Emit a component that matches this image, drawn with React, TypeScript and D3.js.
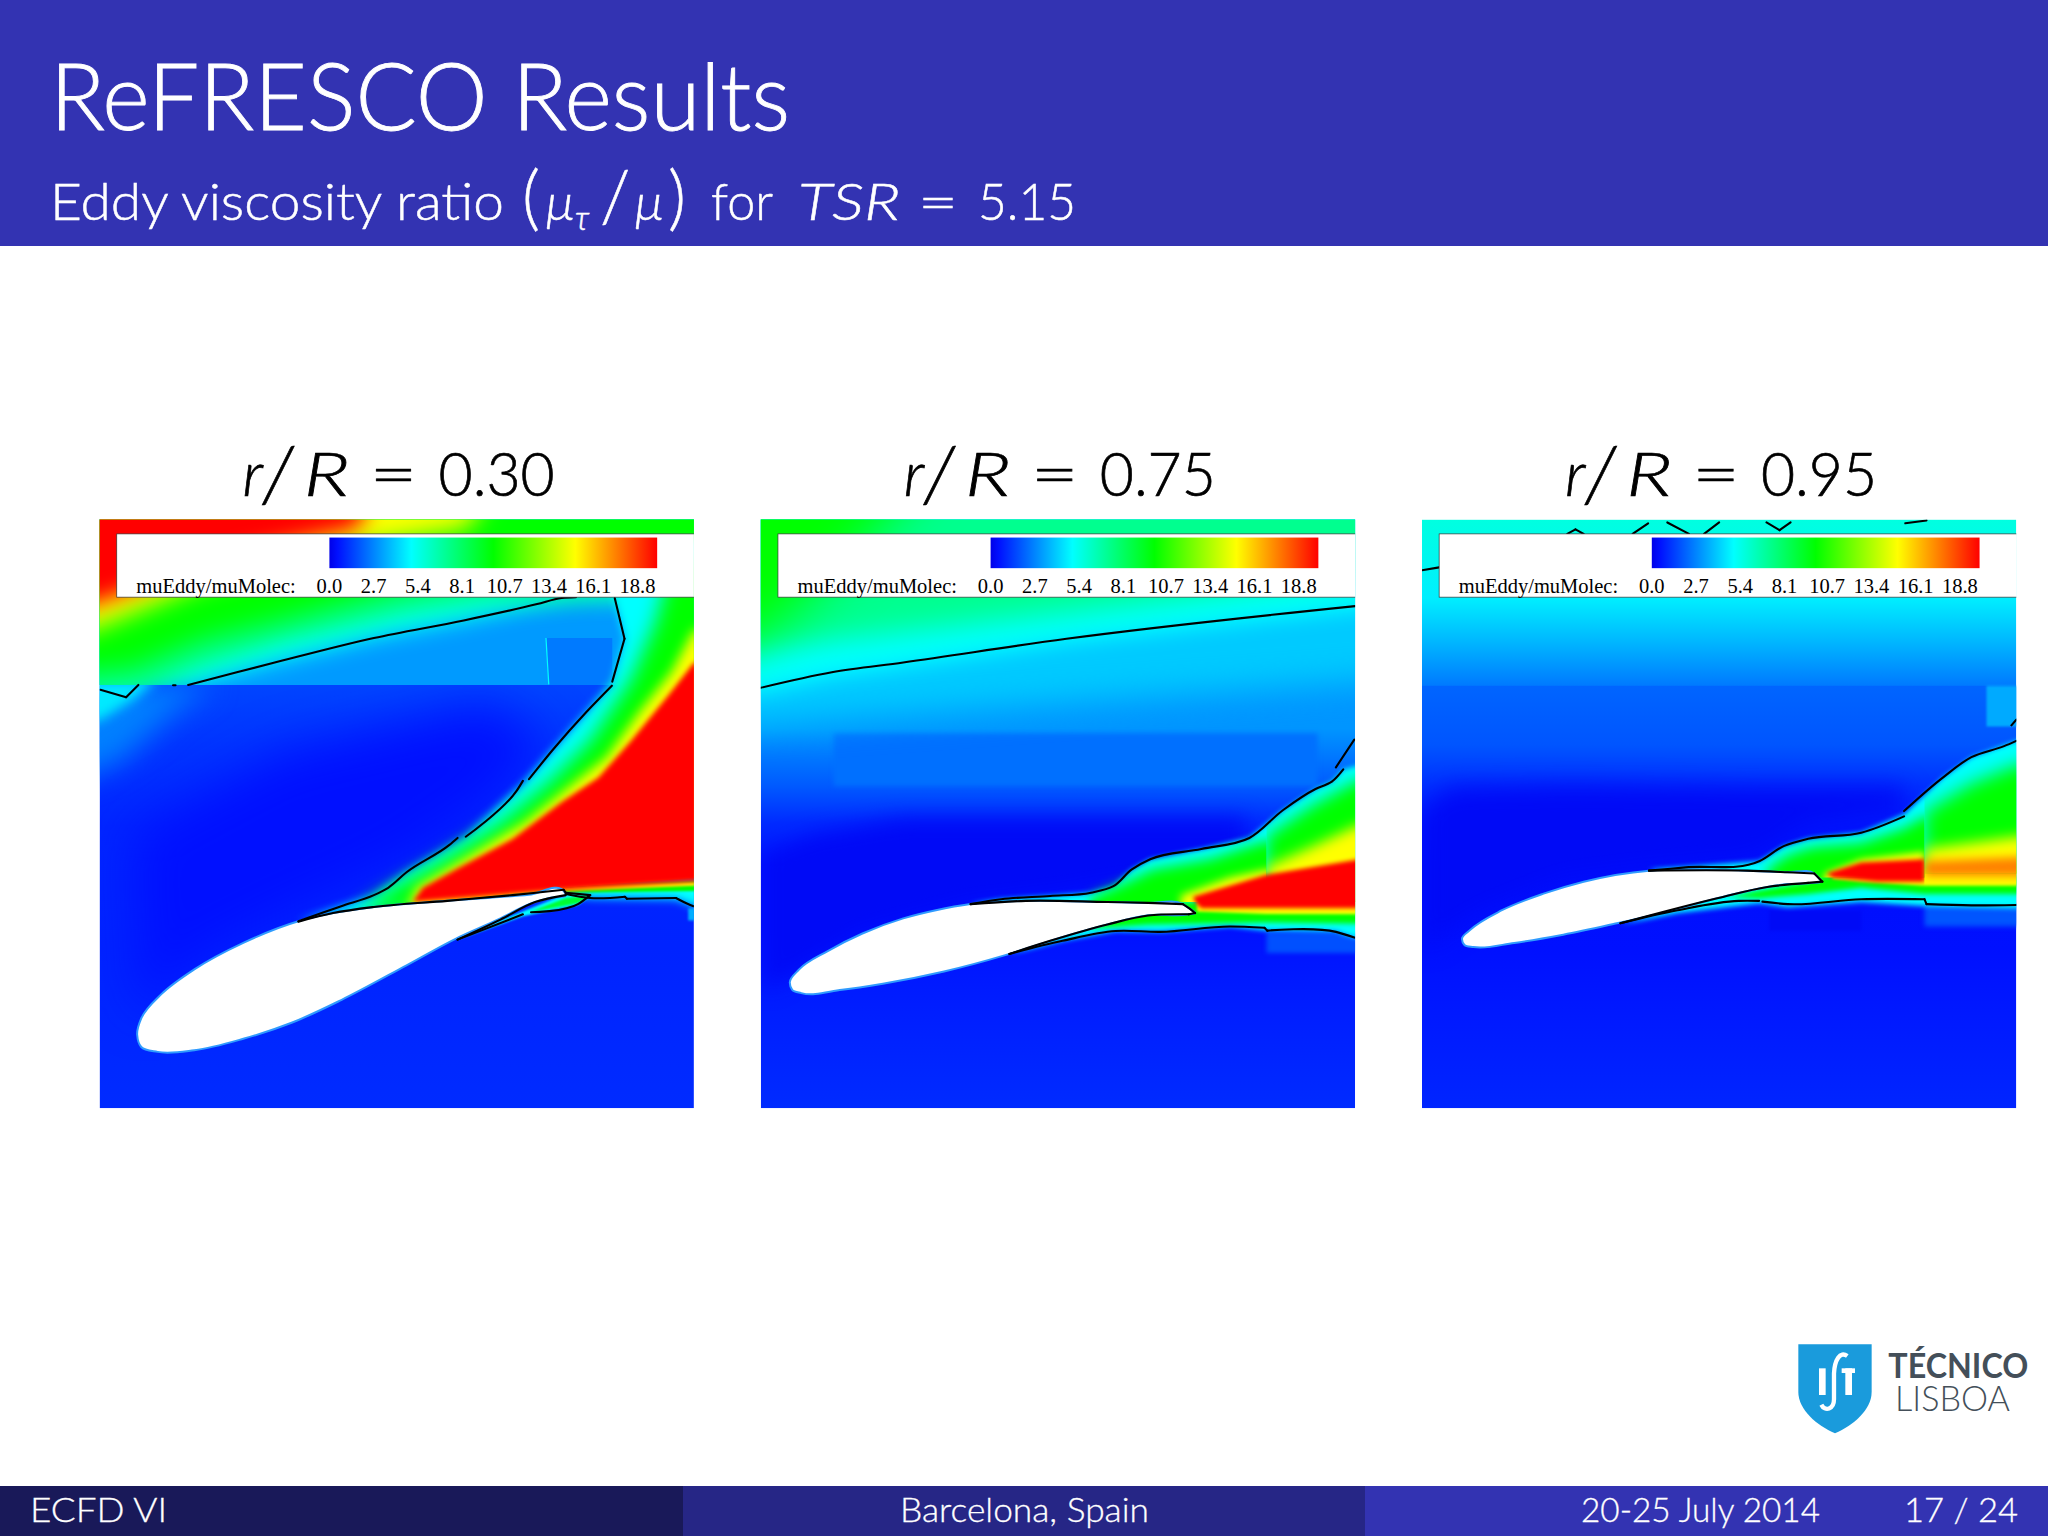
import * as d3 from "d3";

type Pt = [number, number];
type Band = { v: number; soft: number; pts: Pt[]; clip?: Pt[] };

// colour ramp of the solver legend
const rampValues = [0, 0.5, 5, 10, 15, 20];
const rampColors = ["#0000e8", "#0010ff", "#00ffff", "#00ff00", "#ffff00", "#ff0000"];
const legendTicks = [0.0, 2.7, 5.4, 8.1, 10.7, 13.4, 16.1, 18.8];
const legendLabel = "muEddy/muMolec:";

const panelTitles = ["0.30", "0.75", "0.95"];

// regions the solver blocks split the field into
const aboveY453: Pt[] = [[-100, -100], [1700, -100], [1700, 453], [-100, 453]];
const belowY453: Pt[] = [[-100, 453], [1700, 453], [1700, 1600], [-100, 1600]];
const wakeTopR30: Pt[] = [[560, 1040], [815, 992], [1190, 950], [1503, 925], [1700, 925], [1700, -100], [560, -100]];
const wakeLeftR75: Pt[] = [[800, 985], [1290, 985], [1290, -100], [800, -100]];
const wakeRightR75: Pt[] = [[1290, 985], [1700, 985], [1700, -100], [1290, -100]];
const wakeLeftR95: Pt[] = [[880, 925], [1285, 925], [1285, -100], [880, -100]];
const wakeRightR95: Pt[] = [[1285, 915], [1700, 915], [1700, -100], [1285, -100]];

// vertical background profile [y, value], outlines below use the same read-off units
const bgR30: Pt[] = [[453, 1.5], [600, 1.2], [800, 0.9], [1100, 0.85], [1490, 1.0]];
const bandsR30: Band[] = [
  { v: 2.6, soft: 35, pts: [[-100, 453], [330, 453], [230, 520], [100, 640], [-100, 720]], clip: belowY453 },
  { v: 4.6, soft: 14, pts: [[-100, 440], [190, 440], [130, 490], [48, 540], [-100, 560]], clip: belowY453 },
  { v: 0.5, soft: 60, pts: [[130, 820], [500, 620], [1000, 500], [1150, 600], [1000, 750], [800, 880], [700, 930], [520, 1010], [300, 1120], [150, 1260]] },
  { v: 3.1, soft: 0, pts: aboveY453 },
  { v: 2.5, soft: 0, pts: [[1140, 338], [1304, 338], [1304, 453], [1148, 453]] },
  { v: 5, soft: 0, pts: [[1140, 338], [1143, 338], [1150, 452], [1147, 452]] },
  { v: 5, soft: 28, pts: [[-100, 480], [50, 465], [113, 483], [143, 453], [265, 453], [470, 400], [720, 338], [940, 295], [1120, 255], [1215, 238], [1310, 240], [1700, 240], [1700, -100], [-100, -100]], clip: aboveY453 },
  { v: 7.5, soft: 30, pts: [[-100, 500], [160, 470], [300, 410], [500, 350], [800, 280], [1000, 250], [1700, 210], [1700, -100], [-100, -100]], clip: aboveY453 },
  { v: 10, soft: 30, pts: [[-100, 430], [130, 410], [300, 340], [500, 290], [800, 210], [1000, 170], [1700, 130], [1700, -100], [-100, -100]], clip: aboveY453 },
  { v: 15, soft: 30, pts: [[1050, -100], [950, 70], [600, 130], [300, 205], [48, 310], [-100, 360], [-100, -100]] },
  { v: 20, soft: 26, pts: [[750, -100], [680, 70], [400, 130], [200, 195], [48, 250], [-100, 290], [-100, -100]] },
  { v: 5, soft: 10, pts: [[1310, 240], [1334, 340], [1304, 445], [1240, 520], [1160, 610], [1085, 695], [945, 825], [800, 912], [720, 968], [535, 1032], [900, 985], [1190, 965], [1250, 975], [1460, 978], [1503, 995], [1700, 1000], [1700, 100], [1300, 100]] },
  { v: 3.5, soft: 3, pts: [[1490, 1000], [1700, 1000], [1700, 1030], [1490, 1030]] },
  { v: 10, soft: 3, pts: [[680, 1005], [1190, 962], [1503, 958], [1700, 958], [1700, 925], [1190, 945], [830, 985]] },
  { v: 15, soft: 3, pts: [[815, 990], [1190, 958], [1503, 945], [1700, 945], [1700, 930], [1190, 945], [830, 985]] },
  { v: 10, soft: 24, pts: [[1450, 150], [1410, 300], [1350, 440], [1250, 590], [1150, 690], [1030, 790], [880, 885], [760, 955], [680, 1010], [1700, 1010], [1700, 150]], clip: wakeTopR30 },
  { v: 15, soft: 14, pts: [[1700, 270], [1503, 320], [1450, 420], [1370, 520], [1290, 630], [1190, 710], [1090, 790], [950, 875], [825, 950], [800, 1010], [1700, 1010]], clip: wakeTopR30 },
  { v: 20, soft: 6, pts: [[1700, 350], [1503, 400], [1440, 480], [1350, 590], [1270, 680], [1180, 740], [1060, 830], [930, 900], [840, 950], [815, 985], [1190, 955], [1503, 935], [1700, 935]] },
  { v: 5, soft: 3, pts: [[925, 1077], [1030, 1030], [1190, 965], [1250, 970], [1220, 992], [1085, 1020]] },
  { v: 9, soft: 3, pts: [[1100, 1010], [1190, 975], [1250, 968], [1220, 988]] },
];
const foilR30: Pt[] = [[140, 1310], [150, 1270], [200, 1210], [280, 1150], [400, 1085], [535, 1032], [620, 1012], [720, 997], [900, 982], [1100, 967], [1185, 958], [1190, 966], [1150, 975], [1100, 990], [1030, 1025], [920, 1075], [800, 1140], [640, 1225], [520, 1280], [400, 1320], [280, 1348], [190, 1352], [150, 1340]];
const linesR30: Pt[][] = [
  [[50, 465], [113, 483]],
  [[113, 483], [143, 453]],
  [[228, 454], [234, 454]],
  [[265, 453], [470, 400], [720, 338], [940, 295], [1120, 255], [1180, 240], [1215, 238]],
  [[1310, 240], [1334, 340]],
  [[1334, 340], [1304, 445]],
  [[1303, 455], [1240, 520], [1160, 610], [1100, 684]],
  [[1085, 688], [1070, 712], [945, 825]],
  [[925, 828], [905, 845], [800, 912], [755, 950], [720, 968], [640, 995], [535, 1032]],
  [[535, 1033], [620, 1012], [720, 997], [900, 982], [1060, 968], [1185, 955]],
  [[1185, 955], [1192, 965]],
  [[1190, 965], [1250, 975], [1335, 972]],
  [[1335, 972], [1340, 977]],
  [[1340, 977], [1460, 975]],
  [[1460, 975], [1495, 992], [1503, 995]],
  [[925, 1077], [1030, 1028], [1115, 985], [1190, 968]],
  [[925, 1077], [1085, 1015]],
  [[1105, 1010], [1220, 990], [1250, 968]],
  [[1250, 968], [1190, 962]],
];

const bgR75: Pt[] = [[48, 3.2], [560, 3], [700, 1.9], [790, 1.0], [900, 0.5], [1040, 0.5], [1200, 0.7], [1490, 1.0]];
const bandsR75: Band[] = [
  { v: 2.3, soft: 6, pts: [[230, 572], [1415, 572], [1415, 700], [230, 700]] },
  { v: 0.3, soft: 26, pts: [[60, 870], [180, 820], [400, 780], [1240, 780], [1240, 900], [900, 940], [800, 960], [560, 990], [300, 1060], [130, 1160], [60, 1200]] },
  { v: 4, soft: 40, pts: [[-100, 560], [1700, 430], [1700, -100], [-100, -100]] },
  { v: 5, soft: 25, pts: [[-100, 470], [51, 470], [225, 432], [400, 408], [800, 350], [1507, 270], [1700, 250], [1700, -100], [-100, -100]] },
  { v: 7.2, soft: 35, pts: [[-100, 380], [1700, 170], [1700, -100], [-100, -100]] },
  { v: 10, soft: 60, pts: [[-100, -100], [500, -100], [250, 160], [100, 300], [-100, 400]] },
  { v: 1.7, soft: 5, pts: [[1290, 1060], [1700, 1060], [1700, 1110], [1290, 1110]] },
  { v: 5, soft: 7, pts: [[565, 990], [640, 978], [760, 970], [860, 962], [915, 946], [960, 905], [1005, 880], [1130, 855], [1248, 828], [1330, 760], [1410, 708], [1450, 690], [1478, 660], [1700, 600], [1700, 1072], [1505, 1072], [1460, 1058], [1292, 1055], [1200, 1045], [1030, 1058], [920, 1056], [790, 1080], [660, 1112], [900, 1010]] },
  { v: 10, soft: 6, pts: [[860, 1050], [1000, 1040], [1290, 1035], [1700, 1040], [1700, 985], [860, 985]] },
  { v: 15, soft: 4, pts: [[1120, 1008], [1290, 1014], [1700, 1016], [1700, 980], [1120, 980]] },
  { v: 10, soft: 16, pts: [[860, 975], [950, 935], [1010, 905], [1150, 880], [1290, 835], [1700, 835], [1700, 1100], [860, 1100]], clip: wakeLeftR75 },
  { v: 15, soft: 10, pts: [[1080, 968], [1200, 925], [1290, 905], [1700, 905], [1700, 1100], [1080, 1100]], clip: wakeLeftR75 },
  { v: 10, soft: 20, pts: [[1290, 825], [1400, 750], [1507, 690], [1700, 630], [1700, 1100], [1290, 1100]], clip: wakeRightR75 },
  { v: 15, soft: 16, pts: [[1290, 900], [1400, 850], [1507, 800], [1700, 740], [1700, 1100], [1290, 1100]], clip: wakeRightR75 },
  { v: 20, soft: 5, pts: [[1115, 985], [1110, 972], [1200, 945], [1290, 918], [1507, 882], [1700, 860], [1700, 1000], [1290, 1000], [1130, 1000]] },
];
const foilR75: Pt[] = [[122, 1182], [145, 1150], [215, 1105], [300, 1062], [400, 1025], [480, 1005], [565, 990], [700, 982], [900, 985], [1000, 987], [1085, 990], [1100, 1000], [1115, 1012], [1100, 1015], [1000, 1017], [900, 1040], [760, 1080], [650, 1115], [500, 1155], [350, 1185], [250, 1200], [150, 1208], [128, 1200]];
const linesR75: Pt[][] = [
  [[51, 460], [225, 422], [400, 398], [800, 340], [1507, 260]],
  [[565, 990], [640, 978], [760, 970], [860, 962], [915, 946], [960, 905], [1005, 880], [1130, 855], [1248, 828], [1330, 760], [1410, 708], [1450, 690], [1478, 660]],
  [[1460, 655], [1505, 587]],
  [[660, 1112], [790, 1080], [920, 1056], [1030, 1058], [1200, 1045], [1285, 1048]],
  [[1285, 1048], [1292, 1055]],
  [[1292, 1055], [1460, 1058], [1505, 1072]],
  [[565, 990], [700, 982], [900, 985], [1000, 987], [1085, 990]],
  [[1085, 990], [1100, 1000], [1115, 1012]],
  [[1115, 1012], [1100, 1015]],
  [[1100, 1015], [1000, 1018], [900, 1040], [760, 1080], [660, 1112]],
];

const bgR95: Pt[] = [[48, 5.6], [240, 4.7], [350, 3.6], [454, 2.5], [456, 2.1], [600, 1.8], [700, 1.1], [800, 0.6], [900, 0.45], [1100, 0.5], [1490, 0.9]];
const bandsR95: Band[] = [
  { v: 3.4, soft: 2, pts: [[1437, 455], [1700, 455], [1700, 555], [1437, 555]] },
  { v: 0.3, soft: 30, pts: [[54, 760], [125, 705], [420, 700], [880, 705], [1235, 705], [1235, 770], [1000, 800], [900, 860], [860, 880], [600, 905], [400, 930], [200, 1010], [54, 1100]] },
  { v: 0.3, soft: 4, pts: [[905, 1005], [1130, 1005], [1130, 1055], [905, 1055]] },
  { v: 1.8, soft: 6, pts: [[1285, 990], [1700, 990], [1700, 1045], [1285, 1045]] },
  { v: 5, soft: 7, pts: [[610, 905], [880, 885], [940, 848], [1000, 830], [1130, 815], [1235, 770], [1330, 680], [1400, 630], [1510, 590], [1700, 560], [1700, 1000], [1510, 1000], [1290, 995], [1130, 985], [950, 998], [880, 988], [680, 1012], [540, 1040], [800, 950]] },
  { v: 10, soft: 6, pts: [[800, 972], [880, 975], [1000, 965], [1130, 950], [1285, 965], [1700, 965], [1700, 915], [1032, 920], [1000, 935]] },
  { v: 15, soft: 4, pts: [[1060, 928], [1130, 935], [1285, 945], [1700, 945], [1700, 905], [1060, 905]] },
  { v: 10, soft: 16, pts: [[900, 905], [950, 870], [1010, 850], [1130, 840], [1235, 805], [1285, 775], [1700, 775], [1700, 1100], [900, 1100]], clip: wakeLeftR95 },
  { v: 15, soft: 9, pts: [[1040, 915], [1130, 880], [1285, 862], [1285, 1100], [1040, 1100]], clip: wakeLeftR95 },
  { v: 10, soft: 22, pts: [[1285, 765], [1400, 695], [1510, 650], [1700, 620], [1700, 1100], [1285, 1100]], clip: wakeRightR95 },
  { v: 15, soft: 15, pts: [[1285, 855], [1510, 825], [1700, 810], [1700, 1100], [1285, 1100]], clip: wakeRightR95 },
  { v: 17.5, soft: 12, pts: [[1285, 885], [1510, 875], [1700, 870], [1700, 922], [1285, 922]] },
  { v: 20, soft: 5, pts: [[1045, 915], [1130, 888], [1285, 880], [1285, 935], [1170, 935], [1060, 925]], clip: [[880, 700], [1285, 700], [1285, 1000], [880, 1000]] },
];
const foilR95: Pt[] = [[152, 1075], [170, 1055], [250, 1005], [350, 965], [450, 935], [610, 908], [700, 905], [850, 908], [950, 912], [1015, 915], [1025, 925], [1032, 935], [1015, 938], [950, 941], [900, 948], [780, 975], [650, 1010], [540, 1035], [400, 1065], [280, 1085], [180, 1095], [158, 1090]];
const linesR95: Pt[][] = [
  [[54, 172], [96, 165]],
  [[410, 83], [430, 72]],
  [[430, 72], [450, 83]],
  [[570, 83], [608, 57]],
  [[655, 55], [708, 83]],
  [[745, 83], [782, 55]],
  [[898, 55], [930, 74]],
  [[930, 74], [957, 55]],
  [[1238, 57], [1290, 50]],
  [[610, 908], [700, 900], [880, 885], [940, 848], [1000, 830], [1130, 815], [1235, 775]],
  [[1235, 762], [1330, 680], [1400, 630], [1480, 603], [1510, 590]],
  [[1498, 552], [1510, 538]],
  [[540, 1037], [680, 1005], [830, 982], [880, 982]],
  [[888, 984], [950, 990], [1130, 978], [1285, 978]],
  [[1285, 978], [1290, 990]],
  [[1290, 990], [1400, 993], [1510, 992]],
  [[610, 908], [850, 908], [950, 912], [1015, 915]],
  [[1015, 915], [1035, 935]],
  [[1035, 935], [1000, 938]],
  [[1000, 938], [900, 948], [780, 975], [540, 1037]],
];

const panels = [
  { left: 99.6, x0: 48, bg: bgR30, bands: bandsR30, foil: foilR30, lines: linesR30 },
  { left: 760.8, x0: 51, bg: bgR75, bands: bandsR75, foil: foilR75, lines: linesR75 },
  { left: 1422, x0: 54, bg: bgR95, bands: bandsR95, foil: foilR95, lines: linesR95 },
];

const WIDTH = 2048;
const HEIGHT = 1536;
const PANEL_TOP = 519.6;
const PANEL_W = 594.3;
const PANEL_H = 588.6;
const READ_W = 1456;
const READ_H = 1442;
const SANS = "Lato, 'Open Sans', sans-serif";
const SERIF = "'Liberation Serif', serif";

const color = d3.scaleLinear<string>().domain(rampValues).range(rampColors).clamp(true);
const softs = Array.from(new Set(panels.flatMap((p) => p.bands.map((b) => b.soft)))).filter((s) => s > 0);

function Panel({ panel, index }: { panel: (typeof panels)[number]; index: number }) {
  const x = d3.scaleLinear().domain([panel.x0, panel.x0 + READ_W]).range([0, PANEL_W]);
  const y = d3.scaleLinear().domain([48, 48 + READ_H]).range([0, PANEL_H]);
  const area = d3.line<Pt>().x((d) => x(d[0])).y((d) => y(d[1]));
  const contour = d3
    .line<Pt>()
    .x((d) => x(d[0]))
    .y((d) => y(d[1]))
    .curve(d3.curveCatmullRom.alpha(1));
  const foil = d3
    .line<Pt>()
    .x((d) => x(d[0]))
    .y((d) => y(d[1]))
    .curve(d3.curveCatmullRomClosed.alpha(1));
  const barX = d3.scaleLinear().domain([0, 20]).range([x(panel.x0 + 563), x(panel.x0 + 1366)]);
  const boxLeft = x(panel.x0 + 42);

  return (
    <g transform={`translate(${panel.left},${PANEL_TOP})`}>
      <defs>
        <clipPath id={`frame${index}`}>
          <rect width={PANEL_W} height={PANEL_H} />
        </clipPath>
        <linearGradient id={`bg${index}`} gradientUnits="userSpaceOnUse" x1="0" x2="0" y1={y(48)} y2={y(1490)}>
          {panel.bg.map((d, i) => (
            <stop key={i} offset={(d[0] - 48) / READ_H} stopColor={color(d[1])} />
          ))}
        </linearGradient>
        <linearGradient id={`bar${index}`}>
          {rampValues.map((v) => (
            <stop key={v} offset={v / 20} stopColor={color(v)} />
          ))}
        </linearGradient>
        {panel.bands.map((b, i) =>
          b.clip ? (
            <clipPath key={i} id={`c${index}-${i}`}>
              <path d={(area(b.clip) ?? "") + "Z"} />
            </clipPath>
          ) : null
        )}
      </defs>
      <g clipPath={`url(#frame${index})`}>
        <rect width={PANEL_W} height={PANEL_H} fill={`url(#bg${index})`} />
        {panel.bands.map((b, i) => (
          <g key={i} clipPath={b.clip ? `url(#c${index}-${i})` : undefined}>
            <path
              d={(area(b.pts) ?? "") + "Z"}
              fill={color(b.v)}
              filter={b.soft > 0 ? `url(#soft${b.soft})` : undefined}
            />
          </g>
        ))}
        <path d={foil(panel.foil) ?? ""} fill="#fff" stroke="#2f9bff" strokeWidth={2} />
        {panel.lines.map((l, i) => (
          <path key={i} d={contour(l) ?? ""} fill="none" stroke="#000" strokeWidth={2.1} strokeLinecap="round" />
        ))}
        <rect
          x={boxLeft}
          y={y(83)}
          width={PANEL_W}
          height={y(238) - y(83)}
          fill="#fff"
          stroke="#333"
          strokeWidth={0.7}
        />
        <rect
          x={barX(0)}
          y={y(92)}
          width={barX(20) - barX(0)}
          height={y(167) - y(92)}
          fill={`url(#bar${index})`}
        />
        <g fontFamily={SERIF} fontSize={20.5} fill="#000">
          <text x={x(panel.x0 + 90)} y={y(229)}>
            {legendLabel}
          </text>
          {legendTicks.map((t) => (
            <text key={t} x={barX(t)} y={y(229)} textAnchor="middle">
              {t.toFixed(1)}
            </text>
          ))}
        </g>
      </g>
    </g>
  );
}

export default function App() {
  return (
    <svg
      width={WIDTH}
      height={HEIGHT}
      viewBox={`0 0 ${WIDTH} ${HEIGHT}`}
      style={{ position: "absolute", left: 0, top: 0, background: "#fff" }}
    >
      <defs>
        {softs.map((s) => (
          <filter
            key={s}
            id={`soft${s}`}
            filterUnits="userSpaceOnUse"
            x={-400}
            y={-400}
            width={1500}
            height={1500}
            colorInterpolationFilters="sRGB"
          >
            <feGaussianBlur stdDeviation={s * (PANEL_W / READ_W)} />
          </filter>
        ))}
      </defs>

      <rect width={WIDTH} height={246} fill="#3333b2" />
      <g fill="#fff" stroke="#fff" fontFamily={SANS} fontWeight={300}>
        <text x={50} y={130} fontSize={93} strokeWidth={0.9} textLength={740} lengthAdjust="spacingAndGlyphs">
          ReFRESCO Results
        </text>
        <g fontSize={52} strokeWidth={0.5}>
          <text x={50} y={220} textLength={454} lengthAdjust="spacingAndGlyphs">
            Eddy viscosity ratio
          </text>
          <text x={522} y={222} fontSize={70}>(</text>
          <text x={546} y={220} fontStyle="italic">μ</text>
          <text x={575} y={230} fontSize={34} fontStyle="italic">τ</text>
          <text x={600} y={222} fontSize={70}>/</text>
          <text x={635} y={220} fontStyle="italic">μ</text>
          <text x={668} y={222} fontSize={70}>)</text>
          <text x={711} y={220} textLength={62} lengthAdjust="spacingAndGlyphs">for</text>
          <text x={798} y={220} fontStyle="italic" textLength={102} lengthAdjust="spacingAndGlyphs">TSR</text>
          <text x={918} y={220} textLength={40} lengthAdjust="spacingAndGlyphs">=</text>
          <text x={978} y={220} textLength={98} lengthAdjust="spacingAndGlyphs">5.15</text>
        </g>
      </g>

      {panels.map((p, i) => (
        <g key={i} fontFamily={SANS} fontWeight={300} fontSize={62} fill="#000" stroke="#000" strokeWidth={0.7}>
          <text x={p.left + 143} y={496} fontStyle="italic">r</text>
          <text x={p.left + 163} y={502} fontSize={76} fontStyle="italic">/</text>
          <text x={p.left + 204} y={496} fontStyle="italic" textLength={46} lengthAdjust="spacingAndGlyphs">R</text>
          <text x={p.left + 270} y={496} textLength={48} lengthAdjust="spacingAndGlyphs">=</text>
          <text x={p.left + 339} y={496} textLength={116} lengthAdjust="spacingAndGlyphs">
            {panelTitles[i]}
          </text>
        </g>
      ))}

      {panels.map((p, i) => (
        <Panel key={i} panel={p} index={i} />
      ))}

      <g transform="translate(1760,1320) scale(0.3333)">
        <path d="M115 73H335V215C335 270 280 315 225 340C170 315 115 270 115 215Z" fill="#1a9bdc" />
        <g fill="#fff" stroke="none">
          <rect x={177} y={145} width={20} height={80} />
          <rect x={245} y={145} width={40} height={14} />
          <rect x={256} y={145} width={20} height={80} />
        </g>
        <path
          d="M262 108C240 92 224 120 222 160V238C222 268 195 276 184 254"
          fill="none"
          stroke="#fff"
          strokeWidth={13}
        />
        <text fontFamily={SANS} fontSize={105} fill="#444f59">
          <tspan x={385} y={175} fontWeight={700} textLength={420} lengthAdjust="spacingAndGlyphs">
            TÉCNICO
          </tspan>
          <tspan x={405} y={272} fontWeight={300} textLength={345} lengthAdjust="spacingAndGlyphs">
            LISBOA
          </tspan>
        </text>
      </g>

      <rect y={1486} width={683} height={50} fill="#191959" />
      <rect x={683} y={1486} width={683} height={50} fill="#262686" />
      <rect x={1365} y={1486} width={683} height={50} fill="#3333b2" />
      <g fill="#fff" fontFamily={SANS} fontSize={33} fontWeight={300} stroke="#fff" strokeWidth={0.3}>
        <text x={30} y={1522} textLength={137} lengthAdjust="spacingAndGlyphs">ECFD VI</text>
        <text x={900} y={1522} textLength={249} lengthAdjust="spacingAndGlyphs">Barcelona, Spain</text>
        <text x={1581} y={1522} textLength={239} lengthAdjust="spacingAndGlyphs">20-25 July 2014</text>
        <text x={1904} y={1522} textLength={114} lengthAdjust="spacingAndGlyphs">17 / 24</text>
      </g>
    </svg>
  );
}
